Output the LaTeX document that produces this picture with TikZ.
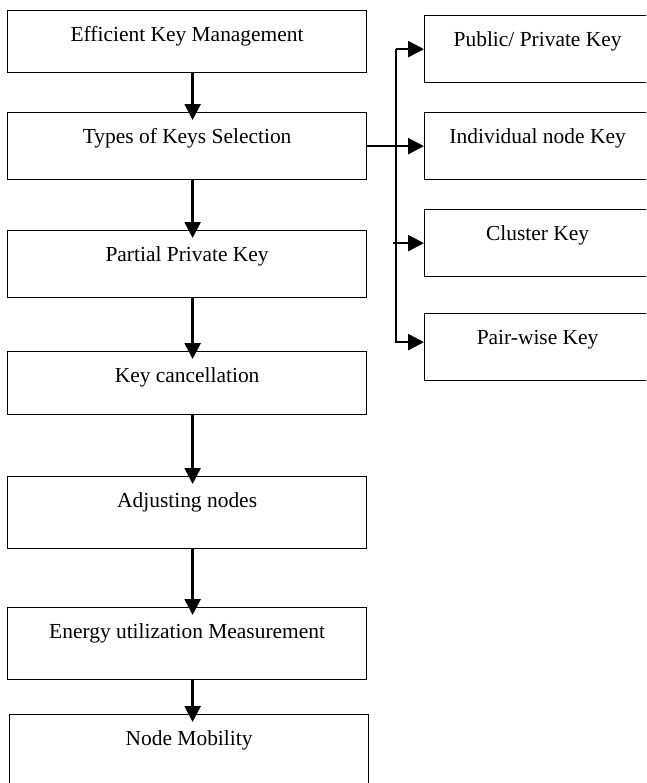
\documentclass[tikz,border=0pt]{standalone}
\usepackage{fontspec}
\setmainfont{Liberation Serif}
\usepackage{tikz}
\usetikzlibrary{arrows.meta,positioning,calc}

\begin{document}
\begin{tikzpicture}[
  stage/.style={draw, line width=0.7pt, anchor=north west, minimum width=7.18cm,
                inner sep=0pt, text height=0.62cm, text depth=#1,
                font=\fontsize{12.2}{14}\selectfont},
  stage/.default=0.72cm,
  keybox/.style={stage, minimum width=4.52cm},
  flow/.style={-{Triangle[length=9pt,width=9pt]}, line width=1.4pt},
]
\useasboundingbox (0,0) rectangle (12.92,-15.66);
\clip (0,0) rectangle (12.92,-15.66);

% main steps
\node[stage=0.62cm] (eff)      at (0.14,-0.20)  {Efficient Key Management};
\node[stage]        (types)    at (0.14,-2.24)  {Types of Keys Selection};
\node[stage]        (partial)  at (0.14,-4.60)  {Partial Private Key};
\node[stage=0.64cm] (cancel)   at (0.14,-7.02)  {Key cancellation};
\node[stage=0.82cm] (adjust)   at (0.14,-9.52)  {Adjusting nodes};
\node[stage=0.82cm] (energy)   at (0.14,-12.14) {Energy utilization Measurement};
\node[stage=0.82cm] (mobility) at (0.18,-14.28) {Node Mobility};

% key types
\node[keybox] (public)  at (8.48,-0.30) {Public/ Private Key};
\node[keybox] (indiv)   at (8.48,-2.24) {Individual node Key};
\node[keybox=0.70cm] (cluster) at (8.48,-4.18) {Cluster Key};
\node[keybox] (pair)    at (8.48,-6.26) {Pair-wise Key};

% flow down
\foreach \a/\b in {eff/types, types/partial, partial/cancel, cancel/adjust,
                   adjust/energy, energy/mobility} {
  \draw[flow, shorten >=-0.16cm] ([xshift=0.11cm]\a.south) -- ([xshift=0.11cm]\a.south |- \b.north);
}

% branch to key types
\coordinate (split) at (7.92,0);
\draw[flow] (types.east) -- (indiv.west);
\draw[flow] (split |- public.west) -- (public.west);
\draw[flow] (split |- public.west) |- ([yshift=0.1cm]pair.west);
\draw[flow] ([xshift=-0.06cm]split |- cluster.west) -- (cluster.west);
\end{tikzpicture}
\end{document}
